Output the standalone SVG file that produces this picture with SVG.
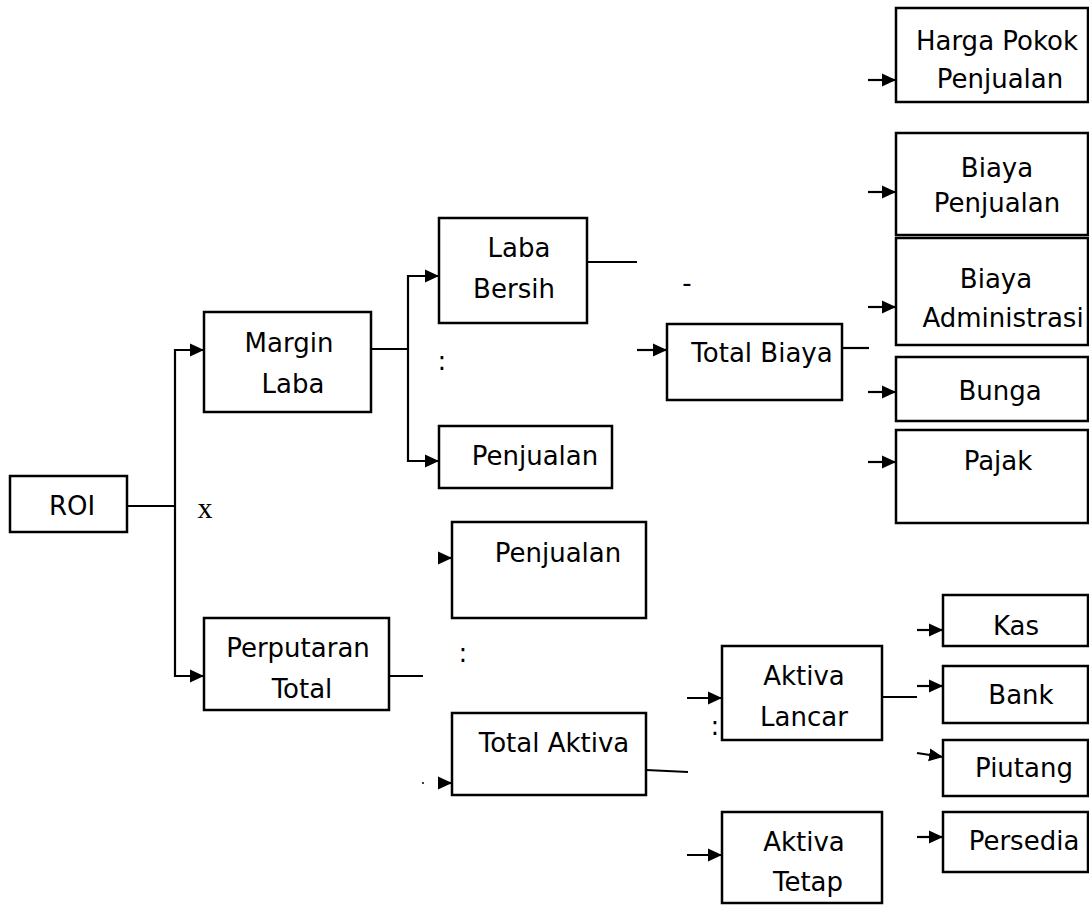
<svg xmlns="http://www.w3.org/2000/svg" width="1089" height="905" viewBox="0 0 1089 905">
<defs>
<marker id="ah" markerUnits="userSpaceOnUse" markerWidth="15" markerHeight="14" refX="14" refY="7" orient="auto">
<path d="M0,0.5 L14,7 L0,13.5 Z" fill="#000"/>
</marker>
<style>
.box{fill:#fff;stroke:#000;stroke-width:2.5}
.t{font-family:"DejaVu Sans",sans-serif;font-size:26px;fill:#000;text-anchor:middle}
.s{font-family:"Liberation Serif",serif;font-size:30px;fill:#000;text-anchor:middle}
.c{fill:none;stroke:#000;stroke-width:2.2}
.a{fill:none;stroke:#000;stroke-width:2.2;marker-end:url(#ah)}
</style>
</defs>
<rect width="1089" height="905" fill="#fff"/>
<g id="connectors">
<path class="c" d="M127,506 H175"/>
<path class="a" d="M175,506 V350 H204"/>
<path class="a" d="M175,506 V676 H204"/>
<path class="c" d="M371,349 H408"/>
<path class="a" d="M408,349 V276 H439"/>
<path class="a" d="M408,349 V461 H439"/>
<path class="c" d="M587,262 H637"/>
<path class="a" d="M637,350 H667"/>
<path class="c" d="M842,348 H869"/>
<path class="a" d="M868,80 H896"/>
<path class="a" d="M868,192 H896"/>
<path class="a" d="M868,307 H896"/>
<path class="a" d="M868,392 H896"/>
<path class="a" d="M868,462 H896"/>
<path class="c" d="M389,676 H423"/>
<path class="a" d="M439,558 H452"/>
<path class="a" d="M439,783 H452"/>
<path class="c" d="M646,770 L688,772"/>
<path class="a" d="M687,698 H722"/>
<path class="a" d="M687,855 H722"/>
<path class="c" d="M882,697 H917"/>
<path class="a" d="M917,630 H943"/>
<path class="a" d="M917,686 H943"/>
<path class="a" d="M917,753 L943,757"/>
<path class="a" d="M917,837 H943"/>
</g>
<g id="labels">
<text class="s" x="205" y="518">x</text>
<text class="t" x="442" y="370">:</text>
<text class="t" x="687" y="292">-</text>
<text class="t" x="463" y="662">:</text>
<text class="t" x="715" y="735">:</text>
<circle cx="423" cy="783" r="1" fill="#000"/>
</g>
<g id="roi"><rect class="box" x="10" y="476" width="117" height="56"/><text class="t" x="72" y="515">ROI</text></g>
<g id="margin-laba"><rect class="box" x="204" y="312" width="167" height="100"/><text class="t" x="289" y="352">Margin</text><text class="t" x="293" y="393">Laba</text></g>
<g id="perputaran-total"><rect class="box" x="204" y="618" width="185" height="92"/><text class="t" x="298" y="657">Perputaran</text><text class="t" x="302" y="698">Total</text></g>
<g id="laba-bersih"><rect class="box" x="439" y="218" width="148" height="105"/><text class="t" x="519" y="257">Laba</text><text class="t" x="514" y="298">Bersih</text></g>
<g id="penjualan-1"><rect class="box" x="439" y="426" width="173" height="62"/><text class="t" x="535" y="465">Penjualan</text></g>
<g id="total-biaya"><rect class="box" x="667" y="324" width="175" height="76"/><text class="t" x="762" y="362">Total Biaya</text></g>
<g id="harga-pokok"><rect class="box" x="896" y="8" width="192" height="94"/><text class="t" x="997" y="50">Harga Pokok</text><text class="t" x="1000" y="88">Penjualan</text></g>
<g id="biaya-penjualan"><rect class="box" x="896" y="133" width="192" height="102"/><text class="t" x="997" y="177">Biaya</text><text class="t" x="997" y="212">Penjualan</text></g>
<g id="biaya-administrasi"><rect class="box" x="896" y="238" width="192" height="107"/><text class="t" x="996" y="288">Biaya</text><text class="t" x="1003" y="327">Administrasi</text></g>
<g id="bunga"><rect class="box" x="896" y="357" width="192" height="64"/><text class="t" x="1000" y="400">Bunga</text></g>
<g id="pajak"><rect class="box" x="896" y="430" width="192" height="93"/><text class="t" x="998" y="470">Pajak</text></g>
<g id="penjualan-2"><rect class="box" x="452" y="522" width="194" height="96"/><text class="t" x="558" y="562">Penjualan</text></g>
<g id="total-aktiva"><rect class="box" x="452" y="713" width="194" height="82"/><text class="t" x="554" y="752">Total Aktiva</text></g>
<g id="aktiva-lancar"><rect class="box" x="722" y="646" width="160" height="94"/><text class="t" x="804" y="685">Aktiva</text><text class="t" x="804" y="726">Lancar</text></g>
<g id="aktiva-tetap"><rect class="box" x="722" y="812" width="160" height="91"/><text class="t" x="804" y="851">Aktiva</text><text class="t" x="808" y="891">Tetap</text></g>
<g id="kas"><rect class="box" x="943" y="595" width="145" height="51"/><text class="t" x="1016" y="635">Kas</text></g>
<g id="bank"><rect class="box" x="943" y="666" width="145" height="57"/><text class="t" x="1021" y="704">Bank</text></g>
<g id="piutang"><rect class="box" x="943" y="740" width="145" height="56"/><text class="t" x="1024" y="777">Piutang</text></g>
<g id="persedia"><rect class="box" x="943" y="812" width="145" height="60"/><text class="t" x="1024" y="850">Persedia</text></g>
</svg>
